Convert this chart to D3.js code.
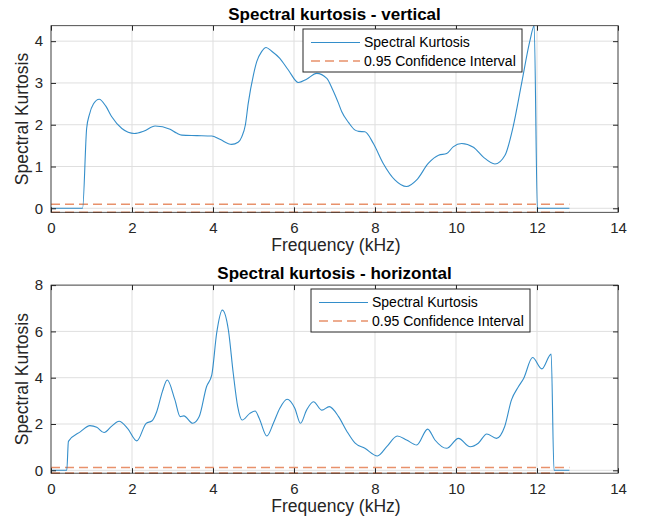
<!DOCTYPE html>
<html><head><meta charset="utf-8">
<script src="https://cdn.jsdelivr.net/npm/d3@7"></script>
<style>body{margin:0;background:#fff}svg{display:block}</style>
</head><body>
<svg id="c" width="646" height="525"></svg>
<script>
// ---- data ----
const xTicks = [0,2,4,6,8,10,12,14];
const yTicksTop = [0,1,2,3,4];
const yTicksBot = [0,2,4,6,8];
const titles = ["Spectral kurtosis - vertical", "Spectral kurtosis - horizontal"];
const legendLabels = ["Spectral Kurtosis", "0.95 Confidence Interval"];
const fMax = 12.8;
const ciTop = 0.096;
const ciBot = 0.12;
// vertical SK (freq kHz, kurtosis)
const vFreq = [0,0.78,0.88,0.95,1.05,1.19,1.35,1.5,1.75,2.06,2.3,2.57,2.94,3.1,3.23,3.6,3.97,4.17,4.46,4.62,4.71,4.8,4.87,5.0,5.08,5.2,5.31,5.45,5.65,5.86,6.11,6.31,6.56,6.81,6.95,7.1,7.18,7.35,7.51,7.6,7.75,7.96,8.2,8.49,8.78,9.03,9.32,9.57,9.77,9.93,10.14,10.43,10.67,10.96,11.21,11.41,11.62,11.83,11.93,12.01,12.8];
const vSK =   [0,0,1.91,2.25,2.5,2.61,2.45,2.19,1.91,1.79,1.85,1.97,1.89,1.8,1.75,1.74,1.73,1.65,1.53,1.58,1.71,2.0,2.51,3.2,3.51,3.75,3.85,3.76,3.59,3.31,3.01,3.09,3.23,3.11,2.85,2.51,2.31,2.05,1.87,1.84,1.83,1.55,1.08,0.68,0.52,0.68,1.08,1.27,1.31,1.47,1.55,1.46,1.23,1.06,1.27,1.95,2.99,4.03,4.37,0,0];
// horizontal SK
const hFreq = [0,0.39,0.43,0.73,0.96,1.13,1.31,1.5,1.68,1.89,2.12,2.35,2.49,2.61,2.75,2.87,3.06,3.19,3.28,3.5,3.66,3.84,3.97,4.09,4.23,4.38,4.5,4.61,4.72,4.91,5.04,5.14,5.33,5.49,5.65,5.83,6.02,6.16,6.31,6.48,6.69,6.87,7.1,7.3,7.51,7.75,8.06,8.29,8.55,8.78,9.03,9.3,9.48,9.77,10.06,10.35,10.55,10.76,11.0,11.2,11.37,11.54,11.67,11.89,12.12,12.35,12.42,12.8];
const hSK =   [0,0,1.25,1.67,1.93,1.86,1.63,1.91,2.12,1.81,1.27,2.03,2.13,2.53,3.4,3.9,3.04,2.32,2.35,2.03,2.32,3.61,4.12,5.92,6.92,6.06,4.19,2.75,2.17,2.46,2.56,2.25,1.48,2.03,2.68,3.07,2.68,2.03,2.6,2.96,2.6,2.75,2.32,1.7,1.17,0.95,0.62,1.02,1.48,1.31,1.09,1.78,1.31,0.95,1.38,1.02,1.17,1.57,1.38,1.88,3.04,3.61,3.97,4.87,4.38,5.02,0,0];

const svg = d3.select("#c");
const FONT = "'Liberation Sans', Arial, Helvetica, sans-serif";
const blue = "#0072BD", orange = "#E8916B";

function panel(o) {
  const x = d3.scaleLinear().domain([0,14]).range([51,618]);
  const y = d3.scaleLinear().domain(o.yDomain).range([o.bottom, o.top]);
  const g = svg.append("g");
  // grid
  g.selectAll(".gx").data(xTicks).join("line")
    .attr("x1", d=>x(d)).attr("x2", d=>x(d)).attr("y1", o.top).attr("y2", o.bottom)
    .attr("stroke", "#dfdfdf").attr("stroke-width", 1);
  g.selectAll(".gy").data(o.yTicks).join("line")
    .attr("y1", d=>y(d)).attr("y2", d=>y(d)).attr("x1", 51).attr("x2", 618)
    .attr("stroke", "#dfdfdf").attr("stroke-width", 1);
  // CI lines
  const ciLine = d3.line().x(d=>x(d[0])).y(d=>y(d[1]));
  [o.ci, -o.ci].forEach(c => {
    g.append("path").attr("d", ciLine([[0,c],[fMax,c]]))
      .attr("fill","none").attr("stroke", orange).attr("stroke-width", 1.6)
      .attr("stroke-dasharray", "9,5");
  });
  // SK line
  const line = d3.line().x((d,i)=>x(o.freq[i])).y(d=>y(d)).curve(d3.curveMonotoneX);
  g.append("path").attr("d", line(o.sk)).attr("fill","none")
    .attr("stroke", blue).attr("stroke-width", 1.1).attr("stroke-opacity", 0.8);
  // axes
  const fmt = d3.format("d");
  const ax = g.append("g").attr("transform", `translate(0,${o.bottom})`)
    .call(d3.axisBottom(x).tickValues(xTicks).tickFormat(fmt).tickSizeInner(-5).tickSizeOuter(0).tickPadding(10));
  const axT = g.append("g").attr("transform", `translate(0,${o.top})`)
    .call(d3.axisTop(x).tickValues(xTicks).tickSizeInner(-5).tickSizeOuter(0).tickFormat(""));
  const ay = g.append("g").attr("transform", `translate(51,0)`)
    .call(d3.axisLeft(y).tickValues(o.yTicks).tickFormat(fmt).tickSizeInner(-5).tickSizeOuter(0).tickPadding(8));
  const ayR = g.append("g").attr("transform", `translate(618,0)`)
    .call(d3.axisRight(y).tickValues(o.yTicks).tickSizeInner(-5).tickSizeOuter(0).tickFormat(""));
  [ax, axT, ay, ayR].forEach(a => {
    a.select(".domain").remove();
    a.selectAll("line").attr("stroke", "#262626");
    a.selectAll("text").attr("fill", "#262626").style("font-family", FONT).style("font-size", "15px");
  });
  // box
  g.append("rect").attr("x", 51).attr("y", o.top).attr("width", 567).attr("height", o.bottom - o.top)
    .attr("fill","none").attr("stroke","#262626").attr("stroke-width", 0.8);
  // title
  g.append("text").attr("x", 334.5).attr("y", o.top - 6).attr("text-anchor","middle")
    .style("font-family", FONT).style("font-size","17px").style("font-weight","bold")
    .attr("fill","#000").text(o.title);
  g.append("text").attr("x", 336).attr("y", o.bottom + 39).attr("text-anchor","middle")
    .style("font-family", FONT).style("font-size","17.5px").attr("fill","#262626").text("Frequency (kHz)");
  g.append("text").attr("transform", `translate(28,${(o.top+o.bottom)/2}) rotate(-90)`)
    .attr("text-anchor","middle").style("font-family", FONT).style("font-size","17.5px")
    .attr("fill","#262626").text("Spectral Kurtosis");
  // legend
  const L = o.legend;
  const lg = g.append("g");
  lg.append("rect").attr("x", L.x).attr("y", L.y).attr("width", L.w).attr("height", L.h)
    .attr("fill","#fff").attr("stroke","#262626").attr("stroke-width", 1);
  const rows = [L.y + 13.5, L.y + 32];
  lg.append("line").attr("x1", L.x+8).attr("x2", L.x+57).attr("y1", rows[0]).attr("y2", rows[0])
    .attr("stroke", blue).attr("stroke-width", 1.1).attr("stroke-opacity", 0.8);
  lg.append("line").attr("x1", L.x+8).attr("x2", L.x+57).attr("y1", rows[1]).attr("y2", rows[1])
    .attr("stroke", orange).attr("stroke-width", 1.6).attr("stroke-dasharray","9,5");
  legendLabels.forEach((t,i) => {
    lg.append("text").attr("x", L.x+61).attr("y", rows[i]).attr("dy","0.35em")
      .style("font-family", FONT).style("font-size","14px").attr("fill","#000").text(t);
  });
}

panel({top: 25.7, bottom: 212.3, yDomain: [-ciTop, 4.37], yTicks: yTicksTop,
  freq: vFreq, sk: vSK, ci: ciTop, title: titles[0],
  legend: {x: 303, y: 29, w: 219, h: 43}});
panel({top: 285.1, bottom: 473.2, yDomain: [-0.125, 8], yTicks: yTicksBot,
  freq: hFreq, sk: hSK, ci: ciBot, title: titles[1],
  legend: {x: 311, y: 289, w: 219, h: 43}});
</script>
</body></html>
